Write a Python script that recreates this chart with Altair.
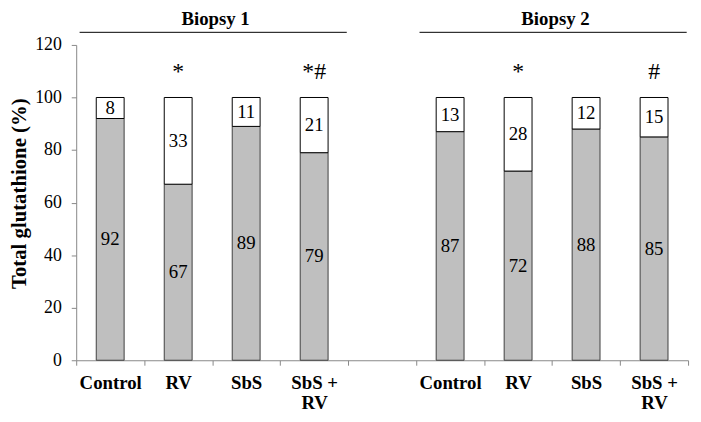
import altair as alt
import pandas as pd

groups = ["Biopsy 1", "Biopsy 2"]
treatments = ["Control", "RV", "SbS", "SbS + RV"]
gray_values = [92, 67, 89, 79, 87, 72, 88, 85]
white_values = [8, 33, 11, 21, 13, 28, 12, 15]
significance = ["", "*", "", "*#", "", "*", "", "#"]
y_ticks = [0, 20, 40, 60, 80, 100, 120]

keys = []
for gi, g in enumerate(groups):
    for t in treatments:
        keys.append(t + " " * gi)
domain = keys[:4] + ["gap"] + keys[4:]

df = pd.DataFrame({
    "key": keys,
    "gray": gray_values,
    "white": white_values,
    "sig": significance,
})

bio = pd.DataFrame({
    "label": groups,
    "start": [keys[0], keys[4]],
    "end": [keys[3], keys[7]],
    "mid": [keys[2], keys[6]],
})

FONT = "Liberation Serif"
AX = "#888888"

xscale = alt.Scale(domain=domain, padding=0)
yscale = alt.Scale(domain=[0, 120], nice=False)

xaxis = alt.Axis(
    title=None,
    labelExpr="(isString(datum.value) && datum.value != 'gap') ? split(replace(trim(datum.value), ' + ', ' +|'), '|') : ''",
    labelFont=FONT, labelFontWeight="bold", labelFontSize=19, labelColor="black",
    labelPadding=9, labelLineHeight=20, labelAngle=0,
    tickBand="extent", tickSize=5, tickColor=AX, domainColor=AX,
)
yaxis = alt.Axis(
    values=y_ticks, grid=False, tickSize=5, tickColor=AX, domainColor=AX,
    labelFont=FONT, labelFontSize=18, labelColor="black", labelPadding=10,
    title="Total glutathione (%)", titleFont=FONT, titleFontWeight="bold",
    titleFontSize=21, titleColor="black", titleAngle=270, titleAlign="center",
    titleBaseline="middle", titleX=-57, titleY=150,
)

x_main = alt.X("key:N", scale=xscale, axis=xaxis)

base = alt.Chart(df)

gray_bars = base.mark_bar(width={"band": 0.41}, fill="#bfbfbf", stroke="#404040", strokeWidth=1).encode(
    x=x_main,
    y=alt.Y("gray:Q", scale=yscale, axis=yaxis),
)

white_bars = base.transform_calculate(total="datum.gray + datum.white").mark_bar(
    width={"band": 0.41}, fill="white", stroke="black", strokeWidth=1
).encode(
    x=x_main,
    y=alt.Y("gray:Q", scale=yscale, axis=yaxis),
    y2="total:Q",
)

gray_text = base.transform_calculate(m="datum.gray / 2").mark_text(
    font=FONT, fontSize=19, color="black", baseline="middle"
).encode(
    x=x_main, y=alt.Y("m:Q", scale=yscale, axis=yaxis), text="gray:Q"
)

white_text = base.transform_calculate(m="datum.gray + datum.white / 2").mark_text(
    font=FONT, fontSize=19, color="black", baseline="middle"
).encode(
    x=x_main, y=alt.Y("m:Q", scale=yscale, axis=yaxis), text="white:Q"
)

sig_text = base.transform_filter("datum.sig != ''").mark_text(
    font=FONT, fontSize=24, color="black", baseline="alphabetic"
).encode(
    x=x_main, y=alt.Y(datum=107, scale=yscale, axis=yaxis), text="sig:N"
)

bio_base = alt.Chart(bio)
bio_rule = bio_base.mark_rule(color="black", strokeWidth=1).encode(
    x=alt.X("start:N", scale=xscale, axis=xaxis, bandPosition=0.05),
    x2=alt.X2("end:N", bandPosition=0.98),
    y=alt.Y(datum=124.8, scale=yscale, axis=yaxis),
)
bio_text = bio_base.mark_text(
    font=FONT, fontSize=19, fontWeight="bold", color="black", baseline="alphabetic"
).encode(
    x=alt.X("mid:N", scale=xscale, axis=xaxis, bandPosition=0.05),
    y=alt.Y(datum=127.6, scale=yscale, axis=yaxis),
    text="label:N",
)

chart = alt.layer(
    gray_bars, white_bars, gray_text, white_text, sig_text, bio_rule, bio_text
).properties(
    width=619, height=319,
    padding={"left": 69, "top": 35, "right": 5, "bottom": 52},
    autosize=alt.AutoSizeParams(type="none"),
    background="white",
).configure_view(stroke=None)

chart.save("out.html", embed_options={"renderer": "svg", "actions": False})
